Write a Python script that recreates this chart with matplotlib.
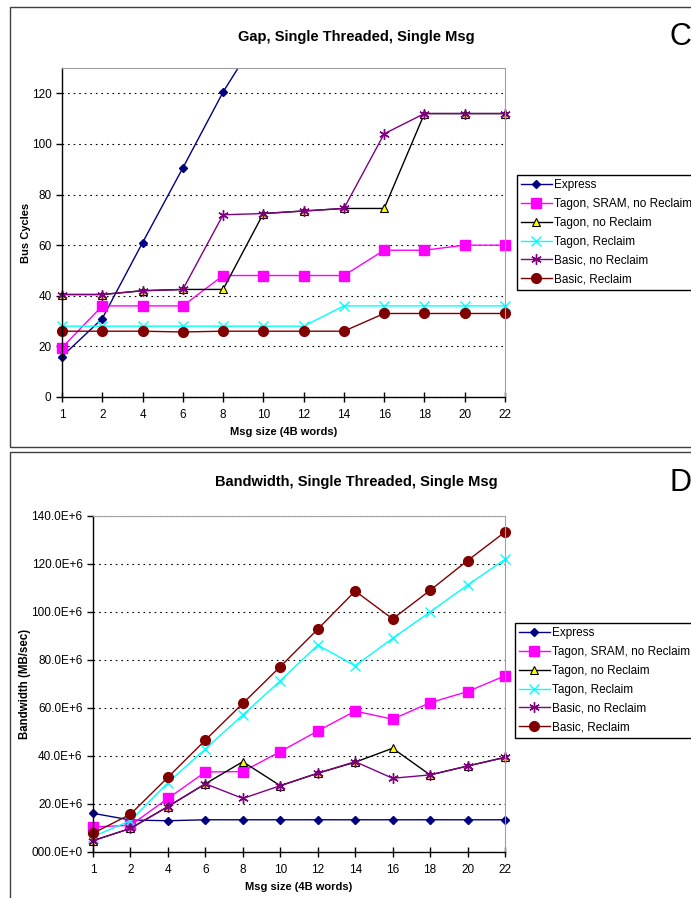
import matplotlib
matplotlib.use("Agg")
import matplotlib.pyplot as plt
from matplotlib.patches import Rectangle
from matplotlib.ticker import FuncFormatter, MultipleLocator

plt.rcParams['font.family'] = ['Liberation Sans', 'DejaVu Sans']

# Datos
msg_sizes = ['1', '2', '4', '6', '8', '10', '12', '14', '16', '18', '20', '22']
series_names = ['Express', 'Tagon, SRAM, no Reclaim', 'Tagon, no Reclaim',
                'Tagon, Reclaim', 'Basic, no Reclaim', 'Basic, Reclaim']

# Gap (bus cycles)
gap_express = [16, 31, 61, 90.5, 120.5, 146, 176, 206, 236, 266, 296, 326]
gap_sram = [19.5, 36, 36, 36, 48, 48, 48, 48, 58, 58, 60, 60]
gap_tagon_norecl = [40.5, 40.5, 42, 42.5, 42.5, 72.5, 73.5, 74.5, 74.5, 112, 112, 112]
gap_tagon_recl = [28, 28, 28, 28, 28, 28, 28, 36, 36, 36, 36, 36]
gap_basic_norecl = [40.5, 40.5, 42, 42.5, 72, 72.5, 73.5, 74.5, 104, 112, 112, 112]
gap_basic_recl = [26, 26, 26, 25.7, 26, 26, 26, 26, 33, 33, 33, 33]

# Bandwidth (x 1e6)
bw_express = [16.0, 13.2, 12.9, 13.3, 13.3, 13.3, 13.3, 13.3, 13.3, 13.3, 13.3, 13.3]
bw_sram = [10.3, 11.0, 22.2, 33.2, 33.4, 41.7, 50.3, 58.6, 55.2, 62.1, 66.7, 73.3]
bw_tagon_norecl = [4.6, 9.7, 18.8, 28.3, 37.5, 27.5, 32.7, 37.3, 43.1, 32.0, 35.7, 39.3]
bw_tagon_recl = [6.3, 12.9, 28.8, 42.8, 57.0, 71.2, 86.1, 77.5, 88.9, 99.9, 111.1, 121.8]
bw_basic_norecl = [4.6, 9.7, 18.8, 28.3, 22.2, 27.5, 32.7, 37.5, 30.6, 32.0, 35.7, 39.3]
bw_basic_recl = [7.7, 15.6, 31.0, 46.5, 61.8, 77.1, 92.7, 108.6, 97.0, 108.9, 121.3, 133.2]

styles = [
    dict(color='#000080', marker='D', markersize=4.5, mfc='#000080', mec='#000080'),
    dict(color='#FF00FF', marker='s', markersize=7, mfc='#FF00FF', mec='#FF00FF'),
    dict(color='#000000', marker='^', markersize=6, mfc='#FFFF00', mec='#000000', mew=0.8),
    dict(color='#00FFFF', marker='x', markersize=7, mfc='#00FFFF', mec='#00FFFF', mew=1.0),
    dict(color='#800080', marker=(6, 2, 0), markersize=7.5, mfc='#800080', mec='#800080', mew=1.0),
    dict(color='#800000', marker='o', markersize=7, mfc='#800000', mec='#800000'),
]

fig = plt.figure(figsize=(6.91, 8.98), dpi=100)

# marcos de los paneles
fig.patches.append(Rectangle((10 / 691, 1 - 447 / 898), 0.99, 440 / 898, transform=fig.transFigure,
                             fill=False, edgecolor='#404040', linewidth=1.0))
fig.patches.append(Rectangle((10 / 691, -0.05), 0.99, 1 - 452 / 898 + 0.05, transform=fig.transFigure,
                             fill=False, edgecolor='#404040', linewidth=1.0))

legend_kw = dict(fontsize=8.5, frameon=True, fancybox=False, edgecolor='black', framealpha=1,
                 handlelength=2.6, labelspacing=0.58, borderpad=0.35, handletextpad=0.2,
                 borderaxespad=0)


def style_axes(ax):
    ax.set_xlim(0, len(msg_sizes) - 1)
    for s in ['top', 'right']:
        ax.spines[s].set_color('#A0A0A0')
    for s in ['left', 'bottom']:
        ax.spines[s].set_color('black')
        ax.spines[s].set_linewidth(1.0)
    ax.yaxis.grid(True, color='black', linestyle=(0, (1.5, 3.5)), linewidth=0.8)
    ax.set_axisbelow(True)
    ax.tick_params(axis='x', direction='inout', length=7, width=1, labelsize=8.5, pad=5.5)
    ax.tick_params(axis='y', direction='out', length=4, width=1, labelsize=8.5)
    ax.set_xlabel('Msg size (4B words)', fontsize=8, fontweight='bold', labelpad=4)


# ---- Panel C: Gap ----
ax1 = fig.add_axes([62 / 691, 1 - 397 / 898, 443 / 691, 329 / 898])
gap_data = [gap_express, gap_sram, gap_tagon_norecl, gap_tagon_recl, gap_basic_norecl, gap_basic_recl]
for i, (vals, name) in enumerate(zip(gap_data, series_names)):
    ln, = ax1.plot(msg_sizes, vals, label=name, linewidth=1.0, clip_on=False, **styles[i])
    if i == 0:
        ln.set_clip_on(True)
        ln.set_clip_path(Rectangle((-1, -10), 13, 140, transform=ax1.transData))
ax1.set_ylim(0, 130)
ax1.yaxis.set_major_locator(MultipleLocator(20))
style_axes(ax1)
ax1.set_ylabel('Bus Cycles', fontsize=8, fontweight='bold')
ax1.yaxis.set_label_coords((31 - 62) / 443, 0.5)
fig.text(356 / 691, 1 - 37 / 898, 'Gap, Single Threaded, Single Msg', ha='center', va='center',
         fontsize=10.5, fontweight='bold')
fig.text(680 / 691, 1 - 37 / 898, 'C', ha='center', va='center', fontsize=22)
ax1.legend(loc='upper left', bbox_to_anchor=(517 / 691, 1 - 175 / 898), bbox_transform=fig.transFigure,
           **legend_kw)

# ---- Panel D: Bandwidth ----
ax2 = fig.add_axes([93 / 691, 1 - 851.7 / 898, 412 / 691, 336 / 898])
bw_data = [bw_express, bw_sram, bw_tagon_norecl, bw_tagon_recl, bw_basic_norecl, bw_basic_recl]
for i, (vals, name) in enumerate(zip(bw_data, series_names)):
    ax2.plot(msg_sizes, [v * 1e6 for v in vals], label=name, linewidth=1.0, clip_on=False, **styles[i])
ax2.set_ylim(0, 140e6)
ax2.yaxis.set_major_locator(MultipleLocator(20e6))


def bw_fmt(v, pos):
    if v == 0:
        return '000.0E+0'
    return f'{v / 1e6:.1f}E+6'


ax2.yaxis.set_major_formatter(FuncFormatter(bw_fmt))
style_axes(ax2)
ax2.set_ylabel('Bandwidth (MB/sec)', fontsize=8.3, fontweight='bold')
ax2.yaxis.set_label_coords((31 - 93) / 412, 0.5)
fig.text(356 / 691, 1 - 482 / 898, 'Bandwidth, Single Threaded, Single Msg', ha='center', va='center',
         fontsize=10.5, fontweight='bold')
fig.text(680 / 691, 1 - 483 / 898, 'D', ha='center', va='center', fontsize=22)
ax2.legend(loc='upper left', bbox_to_anchor=(515 / 691, 1 - 623 / 898), bbox_transform=fig.transFigure,
           **legend_kw)

plt.savefig('out.png', dpi=100)
